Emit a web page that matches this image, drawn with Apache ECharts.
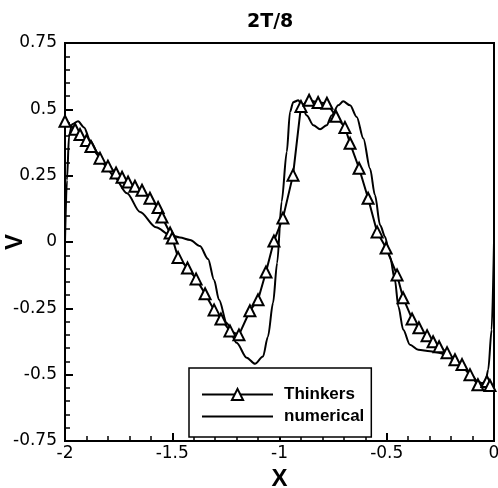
<!DOCTYPE html>
<html>
<head>
<meta charset="utf-8">
<script src="https://cdn.jsdelivr.net/npm/echarts@6/dist/echarts.min.js"></script>
<style>html,body{margin:0;padding:0;background:#fff}#c{width:498px;height:488px}</style>
</head>
<body>
<div id="c"></div>
<script>
var titleText = '2T/8';
var seriesNames = ['Thinkers', 'numerical'];
var xTicks = [-2, -1.5, -1, -0.5, 0];
var yTicks = [-0.75, -0.5, -0.25, 0, 0.25, 0.5, 0.75];

var thinkersX = [-2.000,-1.953,-1.930,-1.900,-1.879,-1.837,-1.800,-1.762,-1.734,-1.706,-1.674,-1.641,-1.604,-1.566,-1.548,-1.510,-1.500,
  -1.473,-1.429,-1.389,-1.347,-1.305,-1.273,-1.231,-1.189,-1.138,-1.100,-1.063,-1.026,-0.984,-0.937,-0.900,-0.862,-0.820,-0.779,
  -0.737,-0.695,-0.671,-0.629,-0.587,-0.545,-0.503,-0.452,-0.424,-0.382,-0.350,-0.312,-0.284,-0.256,-0.219,-0.182,-0.149,-0.112,
  -0.075,-0.033,-0.019];
var thinkersV = [0.455,0.425,0.405,0.383,0.360,0.316,0.286,0.260,0.244,0.226,0.210,0.195,0.165,0.130,0.094,0.034,0.015,
  -0.058,-0.098,-0.139,-0.195,-0.256,-0.290,-0.335,-0.350,-0.259,-0.218,-0.113,0.004,0.090,0.252,0.511,0.534,0.526,0.523,
  0.474,0.432,0.372,0.278,0.165,0.038,-0.023,-0.124,-0.210,-0.290,-0.323,-0.353,-0.376,-0.395,-0.417,-0.444,-0.462,-0.500,
  -0.538,-0.526,-0.541];

var numericalX = [-2.000,-1.991,-1.981,-1.967,-1.939,-1.911,-1.883,-1.846,-1.814,-1.776,-1.711,-1.650,-1.576,-1.510,-1.464,-1.417,
  -1.371,-1.333,-1.305,-1.282,-1.246,-1.200,-1.153,-1.114,-1.077,-1.054,-1.030,-1.011,-0.990,-0.966,-0.951,-0.936,-0.912,-0.897,
  -0.873,-0.842,-0.811,-0.780,-0.757,-0.726,-0.703,-0.671,-0.640,-0.609,-0.578,-0.555,-0.531,-0.508,-0.485,-0.462,-0.446,-0.423,
  -0.392,-0.353,-0.298,-0.252,-0.205,-0.159,-0.112,-0.075,-0.042,-0.027,-0.011,0.000];
var numericalV = [0.000,0.233,0.400,0.444,0.455,0.432,0.383,0.335,0.290,0.252,0.184,0.113,0.056,0.026,0.017,0.008,
  -0.015,-0.064,-0.143,-0.218,-0.305,-0.380,-0.436,-0.459,-0.432,-0.357,-0.229,-0.079,0.152,0.340,0.490,0.527,0.534,0.515,
  0.477,0.440,0.425,0.440,0.477,0.515,0.530,0.515,0.471,0.390,0.277,0.177,0.064,0.020,-0.055,-0.143,-0.243,-0.331,
  -0.387,-0.406,-0.412,-0.418,-0.437,-0.462,-0.496,-0.526,-0.538,-0.481,-0.331,0.000];

function pairs(xs, ys) { return xs.map(function (x, i) { return [x, ys[i]]; }); }

var tickFont = 'DejaVu Sans';
var chart = echarts.init(document.getElementById('c'), null, {renderer: 'canvas'});
function axisCommon() {
  return {
    type: 'value',
    axisLine: {show: true, onZero: false, lineStyle: {color: '#000', width: 2}},
    axisTick: {show: true, inside: true, length: 8, lineStyle: {color: '#000', width: 2}},
    minorTick: {show: true, splitNumber: 5, length: 5, lineStyle: {color: '#000', width: 1.5}},
    splitLine: {show: false},
    minorSplitLine: {show: false}
  };
}
var xa = axisCommon();
xa.min = xTicks[0]; xa.max = xTicks[xTicks.length - 1]; xa.interval = 0.5;
xa.axisLabel = {color: '#000', fontSize: 17, fontFamily: tickFont, margin: 4};
xa.name = 'X'; xa.nameLocation = 'middle'; xa.nameGap = 14;
xa.nameTextStyle = {color: '#000', fontSize: 24, fontWeight: 'bold', fontFamily: 'Liberation Sans'};
var ya = axisCommon();
ya.min = yTicks[0]; ya.max = yTicks[yTicks.length - 1]; ya.interval = 0.25;
ya.axisLabel = {color: '#000', fontSize: 17, fontFamily: tickFont, margin: 8};

chart.setOption({
  animation: false,
  backgroundColor: '#fff',
  title: {text: titleText, left: 242, top: 8,
    textStyle: {color: '#000', fontSize: 19, fontWeight: 'bold', fontFamily: 'DejaVu Sans'}},
  grid: {left: 65, right: 4, top: 43, bottom: 47, containLabel: false, outerBoundsMode: 'none',
    show: true, borderColor: '#000', borderWidth: 2, backgroundColor: 'transparent'},
  xAxis: xa,
  yAxis: ya,
  graphic: [{type: 'text', rotation: Math.PI / 2,
    style: {text: 'V', fill: '#000', font: 'bold 24px "Liberation Sans"', textAlign: 'center', textVerticalAlign: 'middle', x: 0, y: 0},
    position: [15, 242]}],
  legend: {
    data: [{name: seriesNames[0]}, {name: seriesNames[1], itemStyle: {color: 'rgba(0,0,0,0)', borderColor: 'rgba(0,0,0,0)', borderWidth: 0}}],
    orient: 'vertical', left: 189, top: 368,
    backgroundColor: '#fff', borderColor: '#000', borderWidth: 1.5, borderRadius: 0,
    padding: [18, 7, 12, 12], itemGap: 5, itemWidth: 71, itemHeight: 14,
    textStyle: {color: '#000', fontSize: 17, fontWeight: 'bold', fontFamily: 'Liberation Sans', padding: [0, 0, 0, 6]}
  },
  series: [
    {name: seriesNames[1], type: 'line', data: pairs(numericalX, numericalV), symbol: 'none',
      smooth: 0.3, smoothMonotone: 'x', lineStyle: {color: '#000', width: 2}, itemStyle: {color: '#000'}, z: 2},
    {name: seriesNames[0], type: 'line', data: pairs(thinkersX, thinkersV), symbol: 'triangle', symbolSize: 11,
      lineStyle: {color: '#000', width: 2}, itemStyle: {color: '#fff', borderColor: '#000', borderWidth: 2}, z: 3}
  ]
});
</script>
</body>
</html>
